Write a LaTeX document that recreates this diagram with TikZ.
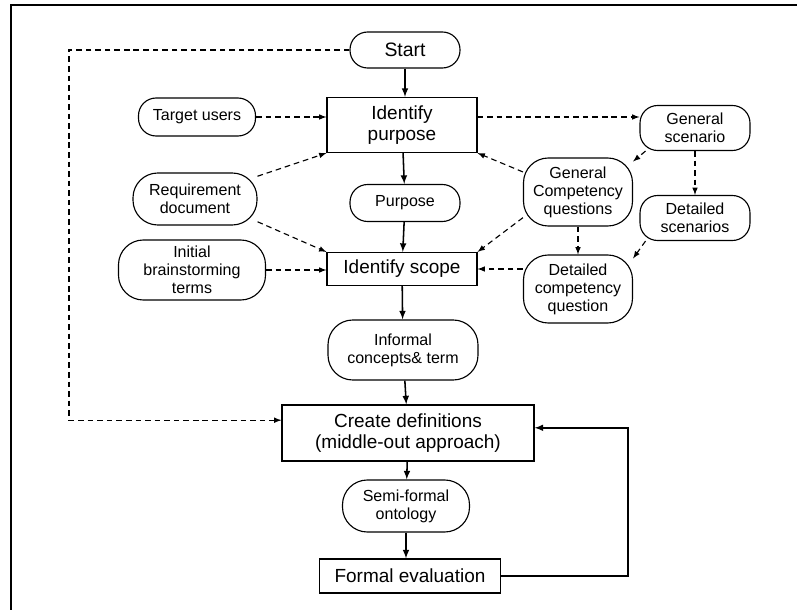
\documentclass[tikz,border=0pt]{standalone}
\usepackage{fontspec}
\setmainfont{Liberation Sans}
\usetikzlibrary{calc}

\begin{document}
\begin{tikzpicture}[>=latex,x=0.025cm,y=-0.025cm,
  wh/.style 2 args={minimum width=#1*0.025cm,minimum height=#2*0.025cm},
  pill/.style={draw,rounded corners=0.44cm,line width=0.8pt,align=center,inner sep=0pt,font=\fontsize{11.4}{12.8}\selectfont},
  tallpill/.style={pill,rounded corners=0.62cm},
  stepbox/.style={draw,line width=0.8pt,align=center,inner sep=0pt,font=\fontsize{13.5}{15.5}\selectfont},
  dep/.style={->,line width=0.8pt,dash pattern=on 4pt off 2.8pt},
  flow/.style={->,line width=1.1pt}]
\useasboundingbox (0,0) rectangle (797,610);
\draw[line width=1.4pt] (797,5) -- (11,5) -- (11,610);
% nodes
\node[pill,wh={110}{36},font=\fontsize{13.8}{15.5}\selectfont] (start) at (405,50) {Start};
\node[stepbox,wh={150}{55}] (purp) at (402,125) {Identify\\purpose};
\node[pill,wh={117}{38}] (users) at (197,117) {Target users};
\node[tallpill,wh={124}{52}] (reqdoc) at (195,199) {Requirement\\document};
\node[pill,wh={110}{37}] (purpose) at (405,203) {Purpose};
\node[tallpill,wh={147}{60}] (brain) at (192,270) {Initial\\brainstorming\\terms};
\node[stepbox,wh={150}{33}] (scope) at (402,269) {Identify scope};
\node[pill,wh={110}{45}] (gensc) at (695,128) {General\\scenario};
\node[tallpill,wh={109}{68}] (gencq) at (578,192) {General\\Competency\\questions};
\node[pill,wh={110}{45}] (detsc) at (695,218) {Detailed\\scenarios};
\node[tallpill,wh={109}{68}] (detcq) at (578,289) {Detailed\\competency\\question};
\node[tallpill,wh={150}{60}] (informal) at (403,350) {Informal\\concepts\& term};
\node[stepbox,wh={252}{56}] (define) at (408,433) {Create definitions\\(middle-out approach)};
\node[tallpill,wh={127}{52}] (semi) at (406,506) {Semi-formal\\ontology};
\node[stepbox,wh={181}{34}] (evaluate) at (410,576) {Formal evaluation};
% main flow
\draw[flow] (start) -- (start |- purp.north);
\draw[flow] (purp) -- (purpose);
\draw[flow] (purpose) -- (scope);
\draw[flow] (scope) -- (informal);
\draw[flow] (informal) -- (define);
\draw[flow] (define) -- (semi);
\draw[flow] (semi) -- (semi |- evaluate.north);
\coordinate (loop) at (628,0);
\coordinate (defin) at ([yshift=1.3mm]define.east);
\draw[flow] (evaluate.east) -| (loop |- defin) -- (defin);
% inputs
\draw[dep] (users) -- (users -| purp.west);
\draw[dep] (purp.east |- users) -- (gensc.west |- users);
\draw[dep] (reqdoc.20) -- (purp.south west);
\draw[dep] (reqdoc.-20) -- (scope.north west);
\draw[dep] (brain) -- (brain -| scope.west);
\draw[dep] (gensc.205) -- (gencq.29);
\draw[dep] (gensc) -- (detsc);
\draw[dep] (gencq.160) -- (purp.south east);
\draw[dep] (gencq.205) -- (scope.north east);
\draw[dep] (gencq) -- (detcq);
\draw[dep] (detsc.205) -- (detcq.29);
\draw[dep] (detcq.west |- scope) -- (scope);
\coordinate (rail) at (69,0);
\coordinate (defout) at ([yshift=3.2mm]define.west);
\draw[dep] (start) -- (start -| rail) |- (defout);
\end{tikzpicture}
\end{document}
